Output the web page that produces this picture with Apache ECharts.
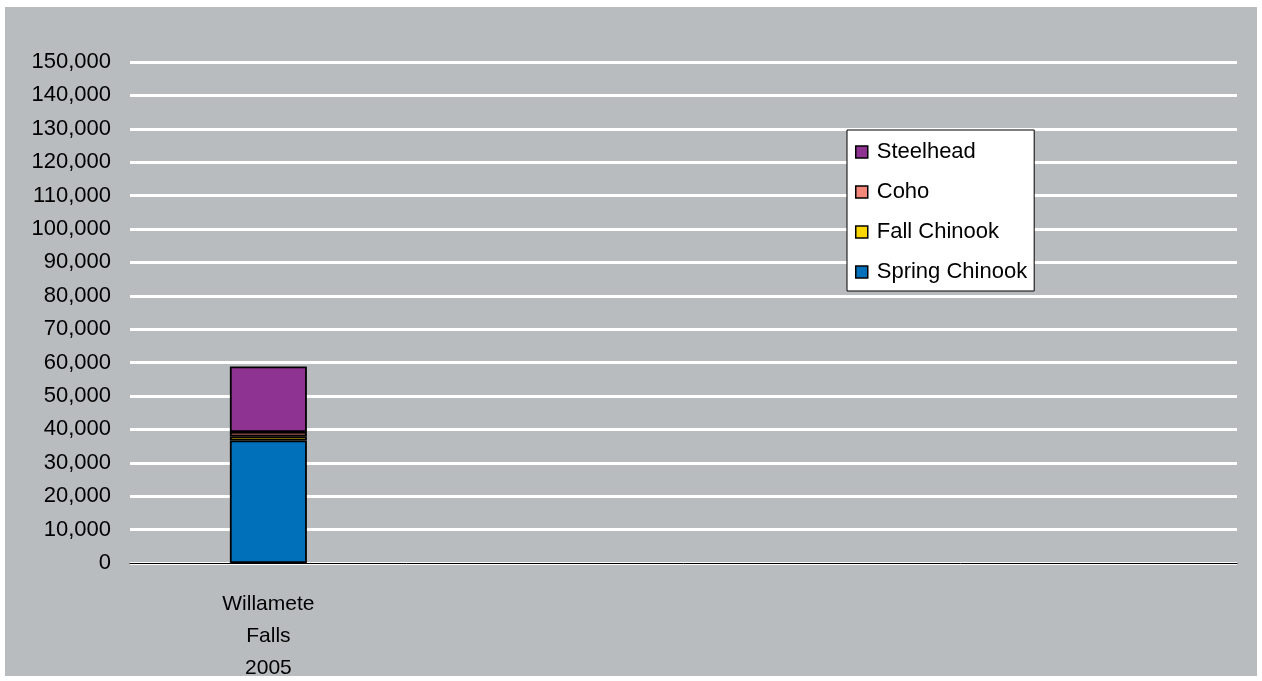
<!DOCTYPE html>
<html>
<head>
<meta charset="utf-8">
<script src="https://cdn.jsdelivr.net/npm/echarts@6/dist/echarts.min.js"></script>
<style>
    html, body { margin: 0; padding: 0; background: #ffffff; }
    #chart {
        position: absolute;
        left: 5px;
        top: 7px;
        width: 1252px;
        height: 669px;
        background: #b9bcbf;
    }
</style>
</head>
<body>
<div id="chart"></div>
<script>
// Chart data
const categories = ['Willamete\nFalls\n2005', '', '', ''];
const springChinook = [36700];
const fallChinook = [1250];
const coho = [1250];
const steelhead = [19650];
const yTicks = { min: 0, max: 150000, interval: 10000 };

const font = 'Liberation Sans, Arial, sans-serif';

function makeSeries(name, data, color) {
    return {
        name: name,
        type: 'bar',
        stack: 'total',
        barWidth: 77,
        data: data,
        itemStyle: { color: color, borderColor: '#000000', borderWidth: 1.8 }
    };
}

const chart = echarts.init(document.getElementById('chart'));
chart.setOption({
    backgroundColor: '#b9bcbf',
    animation: false,
    grid: { left: 125, right: 20, top: 55, bottom: 113, outerBoundsMode: 'none', containLabel: false },
    legend: {
        orient: 'vertical',
        left: 842,
        top: 123,
        data: ['Steelhead', 'Coho', 'Fall Chinook', 'Spring Chinook'],
        icon: 'rect',
        itemWidth: 12,
        itemHeight: 12,
        itemGap: 18,
        padding: [11, 7, 8, 8],
        backgroundColor: '#ffffff',
        borderColor: '#000000',
        borderWidth: 1,
        borderRadius: 0,
        itemStyle: { borderColor: '#000000', borderWidth: 1.5 },
        textStyle: { fontFamily: font, fontSize: 22, color: '#000000', lineHeight: 20, padding: [0, 0, 0, 4] }
    },
    xAxis: {
        type: 'category',
        data: categories,
        axisLine: { lineStyle: { color: '#000000', width: 1 } },
        axisTick: { show: false },
        axisLabel: { fontFamily: font, fontSize: 21, color: '#000000', lineHeight: 32, margin: 25, interval: 0 }
    },
    yAxis: {
        type: 'value',
        min: yTicks.min,
        max: yTicks.max,
        interval: yTicks.interval,
        axisLine: { show: false },
        axisTick: { show: false },
        splitLine: { lineStyle: { color: '#ffffff', width: 3 } },
        axisLabel: {
            fontFamily: font,
            fontSize: 22,
            color: '#000000',
            margin: 19,
            formatter: v => v.toLocaleString('en-US')
        }
    },
    series: [
        makeSeries('Spring Chinook', springChinook, '#0070ba'),
        makeSeries('Fall Chinook', fallChinook, '#ffd700'),
        makeSeries('Coho', coho, '#f4877b'),
        makeSeries('Steelhead', steelhead, '#8e3392')
    ]
});
</script>
</body>
</html>
